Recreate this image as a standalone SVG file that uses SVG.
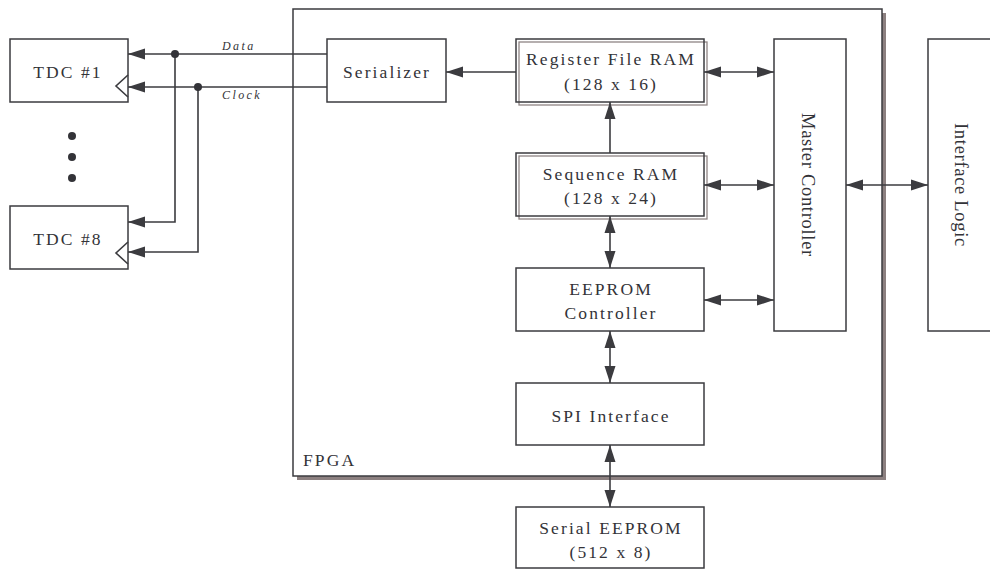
<svg xmlns="http://www.w3.org/2000/svg" width="990" height="575" viewBox="0 0 990 575">
<style>
.box{fill:#fff;stroke:#3b3b3f;stroke-width:1.5}
.dbl{fill:none;stroke:#8f8585;stroke-width:1.3}
text{font-family:'Liberation Serif',serif}
.t{font-size:17.5px;letter-spacing:2.1px;fill:#333338;text-anchor:middle}
.v{font-size:18.5px;letter-spacing:0.7px}
.lab{font-size:12px;font-style:italic;letter-spacing:2.4px;fill:#333338}
.c{fill:none;stroke:#3b3b3f;stroke-width:1.6}
.a{marker-end:url(#ah)}
.d{marker-start:url(#ah);marker-end:url(#ah)}
</style>
<defs>
<marker id="ah" markerUnits="userSpaceOnUse" markerWidth="17" markerHeight="12" refX="17" refY="6" orient="auto-start-reverse" viewBox="0 0 17 12">
<path d="M0,0.5 L17,6 L0,11.5 z" fill="#3b3b3f"/>
</marker>
</defs>
<rect x="0" y="0" width="990" height="575" fill="#fff"/>
<g id="fpga">
<rect x="297" y="13" width="589" height="467" fill="#8c8080"/>
<rect class="box" x="293" y="9" width="589" height="467"/>
<text class="t" x="303" y="466" font-family="Liberation Serif, serif" style="text-anchor:start">FPGA</text>
</g>
<g id="tdc1">
<rect class="box" x="10" y="39" width="118" height="63"/>
<path class="c" d="M128,75 L116,86 L128,97"/>
<text class="t" x="68" y="78" font-family="Liberation Serif, serif">TDC #1</text>
</g>
<g id="dots">
<circle cx="72" cy="136" r="4" fill="#333338"/>
<circle cx="72" cy="157" r="4" fill="#333338"/>
<circle cx="72" cy="178" r="4" fill="#333338"/>
</g>
<g id="tdc8">
<rect class="box" x="10" y="206" width="118" height="63"/>
<path class="c" d="M128,242 L116,253 L128,264"/>
<text class="t" x="68" y="245" font-family="Liberation Serif, serif">TDC #8</text>
</g>
<g id="serializer">
<rect class="box" x="327" y="39" width="119" height="63"/>
<text class="t" x="387" y="78" font-family="Liberation Serif, serif">Serializer</text>
</g>
<g id="regfile">
<rect class="dbl" x="519" y="42" width="188" height="63"/>
<rect class="box" x="516" y="39" width="188" height="63" style="fill:none"/>
<text class="t" x="611" y="65" font-family="Liberation Serif, serif">Register File RAM</text>
<text class="t" x="611" y="90" font-family="Liberation Serif, serif">(128 x 16)</text>
</g>
<g id="seqram">
<rect class="dbl" x="519" y="156" width="188" height="63"/>
<rect class="box" x="516" y="153" width="188" height="63" style="fill:none"/>
<text class="t" x="611" y="180" font-family="Liberation Serif, serif">Sequence RAM</text>
<text class="t" x="611" y="204" font-family="Liberation Serif, serif">(128 x 24)</text>
</g>
<g id="eepromctl">
<rect class="box" x="516" y="268" width="188" height="63"/>
<text class="t" x="611" y="295" font-family="Liberation Serif, serif">EEPROM</text>
<text class="t" x="611" y="319" font-family="Liberation Serif, serif">Controller</text>
</g>
<g id="spi">
<rect class="box" x="516" y="383" width="188" height="62"/>
<text class="t" x="611" y="422" font-family="Liberation Serif, serif">SPI Interface</text>
</g>
<g id="serialeeprom">
<rect class="box" x="516" y="507" width="188" height="61"/>
<text class="t" x="611" y="534" font-family="Liberation Serif, serif">Serial EEPROM</text>
<text class="t" x="611" y="558" font-family="Liberation Serif, serif">(512 x 8)</text>
</g>
<g id="master">
<rect class="box" x="774" y="39" width="72" height="292"/>
<text class="t v" transform="translate(808,185) rotate(90)" x="0" y="6" font-family="Liberation Serif, serif">Master Controller</text>
</g>
<g id="iface">
<rect class="box" x="928" y="39" width="80" height="292"/>
<text class="t v" transform="translate(961,185) rotate(90)" x="0" y="6" font-family="Liberation Serif, serif">Interface Logic</text>
</g>
<g id="connectors">
<path class="c a" d="M327,54 L128,54"/>
<path class="c a" d="M327,87 L128,87"/>
<path class="c a" d="M175,54 L175,222 L128,222"/>
<path class="c a" d="M198,87 L198,252 L128,252"/>
<circle cx="175" cy="54" r="4" fill="#333338"/>
<circle cx="198" cy="87" r="4" fill="#333338"/>
<path class="c a" d="M516,72 L446,72"/>
<path class="c a" d="M610,153 L610,102"/>
<path class="c d" d="M704,72 L774,72"/>
<path class="c d" d="M704,185 L774,185"/>
<path class="c d" d="M704,300 L774,300"/>
<path class="c d" d="M846,185 L928,185"/>
<path class="c d" d="M610,216 L610,268"/>
<path class="c d" d="M610,331 L610,383"/>
<path class="c d" d="M610,445 L610,507"/>
</g>
<g id="labels">
<text class="lab" x="222" y="50" font-family="Liberation Serif, serif">Data</text>
<text class="lab" x="222" y="99" font-family="Liberation Serif, serif">Clock</text>
</g>
</svg>
